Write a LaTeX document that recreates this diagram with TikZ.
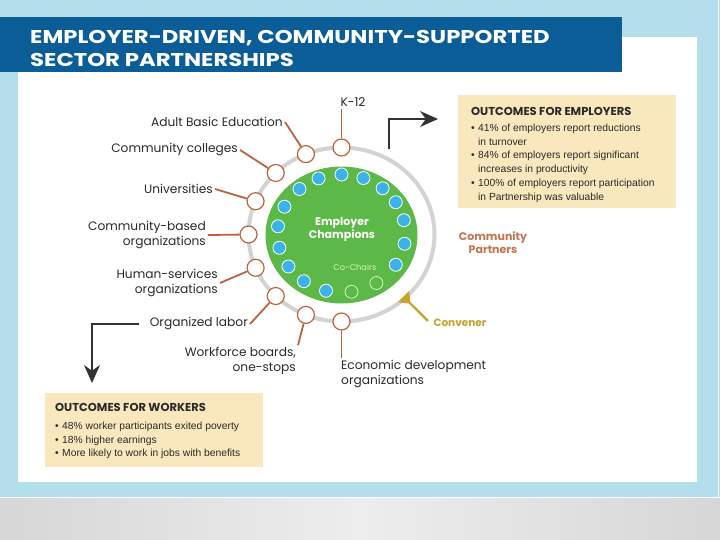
\documentclass[tikz,border=0pt]{standalone}
\usepackage{fontspec}
\usepackage{graphicx}
\setmainfont{Poppins}
\newfontfamily\bulletfont{Liberation Sans}
\usetikzlibrary{arrows.meta,positioning}

\definecolor{bgblue}{HTML}{B3DFEC}
\definecolor{titleblue}{HTML}{0B5D98}
\definecolor{ringgray}{HTML}{D3D3D3}
\definecolor{champgreen}{HTML}{5DB947}
\definecolor{dotblue}{HTML}{3BB3E8}
\definecolor{chairline}{HTML}{D5F3C4}
\definecolor{partnerbrown}{HTML}{B9643C}
\definecolor{partnertext}{HTML}{C57452}
\definecolor{convgold}{HTML}{C9A22A}
\definecolor{outcomefill}{HTML}{F9E7BD}
\definecolor{labelgray}{HTML}{2A2A2A}
\definecolor{arrowgray}{HTML}{333333}

\tikzset{
  partner/.style={circle, draw=partnerbrown, line width=1.2pt, fill=white, minimum size=17pt, inner sep=0pt},
  link/.style={draw=partnerbrown, line width=1.8pt},
  lbl/.style={text=labelgray, font=\fontsize{12.2}{14.8}\selectfont, inner sep=2pt},
  champ/.style={circle, fill=dotblue, draw=white, line width=0.8pt, minimum size=13pt, inner sep=0pt},
  chair/.style={circle, draw=chairline, line width=0.8pt, minimum size=13pt, inner sep=0pt},
  outarrow/.style={draw=arrowgray, line width=1.2pt, -{Stealth[length=18pt,width=16pt]}},
  outbox/.style={fill=outcomefill, inner sep=0pt},
  outtext/.style={align=left, inner sep=0pt, text=labelgray, font=\bulletfont\fontsize{10.3}{13.7}\selectfont}
}

\newcommand{\bul}{\makebox[7pt][l]{•}}

\begin{document}
\begin{tikzpicture}[x=1pt, y=-1pt]
\useasboundingbox (0,0) rectangle (720,540);

% slide frame
\fill[bgblue] (0,0) rectangle (720,497);
\shade[left color=black!16, right color=black!16, middle color=black!7] (0,497) rectangle (720,540);
\draw[white, line width=1pt] (0,497.5) -- (720,497.5);
\draw[white, line width=0.8pt] (718.5,0) -- (718.5,497);
\fill[white] (18,37) rectangle (697,482);
\fill[titleblue] (0,17) rectangle (622,72);
\node[anchor=north west, align=left, text=white, inner sep=0pt,
      font=\bfseries\fontsize{18.5}{23}\selectfont] (title) at (30,30)
      {\scalebox{1.23}[1]{EMPLOYER-DRIVEN, COMMUNITY-SUPPORTED}\\
       \scalebox{1.23}[1]{SECTOR PARTNERSHIPS}};

% employer champions
\fill[champgreen] (341.5,235) ellipse [x radius=76pt, y radius=68.5pt];
\draw[ringgray, line width=4pt] (341.5,234.5) ellipse [x radius=93pt, y radius=87pt];
\node[text=white, align=center, font=\bfseries\fontsize{11}{13}\selectfont] (champs) at (342,229) {Employer\\Champions};
\node[text=chairline, font=\fontsize{8.3}{10}\selectfont] (cochairs) at (355,267) {Co-Chairs};
\foreach \a [count=\i] in {90,70,50,32,13,-10,-32,-104,-126,-146,-166,173,153,131,111}
  \node[champ] (d\i) at ({341.5+64*cos(\a)},{233.5-59*sin(\a)}) {};
\foreach \a [count=\i] in {-57,-81}
  \node[chair] (h\i) at ({341.5+64*cos(\a)},{233.5-59*sin(\a)}) {};

% community partners
\foreach \a [count=\i] in {90,112.5,...,270}
  \node[partner] (p\i) at ({341.5+93*cos(\a)},{234.5-87*sin(\a)}) {};

\node[lbl] (k12) at (353,102) {K-12};
\node[lbl, anchor=east] (abe) at (285,122) {Adult Basic Education};
\node[lbl, anchor=east] (cc) at (240,150) {Community colleges};
\node[lbl, anchor=east] (uni) at (215,189) {Universities};
\node[lbl, anchor=east, align=right] (cbo) at (208,235) {Community-based\\organizations};
\node[lbl, anchor=east, align=right] (hso) at (220,283) {Human-services\\organizations};
\node[lbl, anchor=east] (orl) at (250,324) {Organized labor};
\node[lbl, anchor=east, align=right] (wfb) at (298,361) {Workforce boards,\\one-stops};
\node[lbl, anchor=north west, align=left] (edo) at (339,358) {Economic development\\organizations};

\draw[link] (p1) -- (p1 |- k12.south);
\draw[link] (abe.east) -- (p2);
\draw[link] (cc.east) -- (p3);
\draw[link] (uni.east) -- (p4);
\draw[link] (cbo.east) -- (p5);
\draw[link] (hso.east) -- (p6);
\draw[link] (orl.east) -- (p7);
\draw[link] (wfb.north east) -- (p8);
\draw[link] (p9) -- (p9 |- edo.north);

\node[text=partnertext, align=center, font=\bfseries\fontsize{11}{13}\selectfont] (cp) at (493,243) {Community\\Partners};

% convener
\node[text=convgold, anchor=west, font=\bfseries\fontsize{10.5}{12}\selectfont] (conv) at (430,323) {Convener};
\coordinate (convpt) at ({341.5+91*cos(-47)},{234.5+85*sin(47)});
\draw[convgold, line width=2.2pt, {Triangle[reversed,length=10pt,width=15pt]}-, shorten >=3pt] (convpt) -- (conv.west);

% outcomes
\node[outbox, minimum width=218pt, minimum height=113pt, anchor=north west] (empbox) at (458,95) {};
\node[outtext, anchor=north west] (emptxt) at ([xshift=13pt,yshift=-12.5pt]empbox.north west)
  {{\rmfamily\bfseries\fontsize{11.5}{14}\selectfont OUTCOMES FOR EMPLOYERS}\\[2pt]
   \bul 41\% of employers report reductions\\
   \hspace*{7pt}in turnover\\
   \bul 84\% of employers report significant\\
   \hspace*{7pt}increases in productivity\\
   \bul 100\% of employers report participation\\
   \hspace*{7pt}in Partnership was valuable};
\coordinate (eas) at (389,149);
\coordinate (eae) at (438,119);
\draw[outarrow] (eas) |- (eae);

\node[outbox, minimum width=218pt, minimum height=74pt, anchor=north west] (wrkbox) at (45,393) {};
\node[outtext, anchor=north west] (wrktxt) at ([xshift=10pt,yshift=-10.5pt]wrkbox.north west)
  {{\rmfamily\bfseries\fontsize{11.5}{14}\selectfont OUTCOMES FOR WORKERS}\\[4pt]
   \bul 48\% worker participants exited poverty\\
   \bul 18\% higher earnings\\
   \bul More likely to work in jobs with benefits};
\coordinate (wae) at (92,383);
\draw[outarrow] ([xshift=-9pt]orl.west) -| (wae);
\end{tikzpicture}
\end{document}
